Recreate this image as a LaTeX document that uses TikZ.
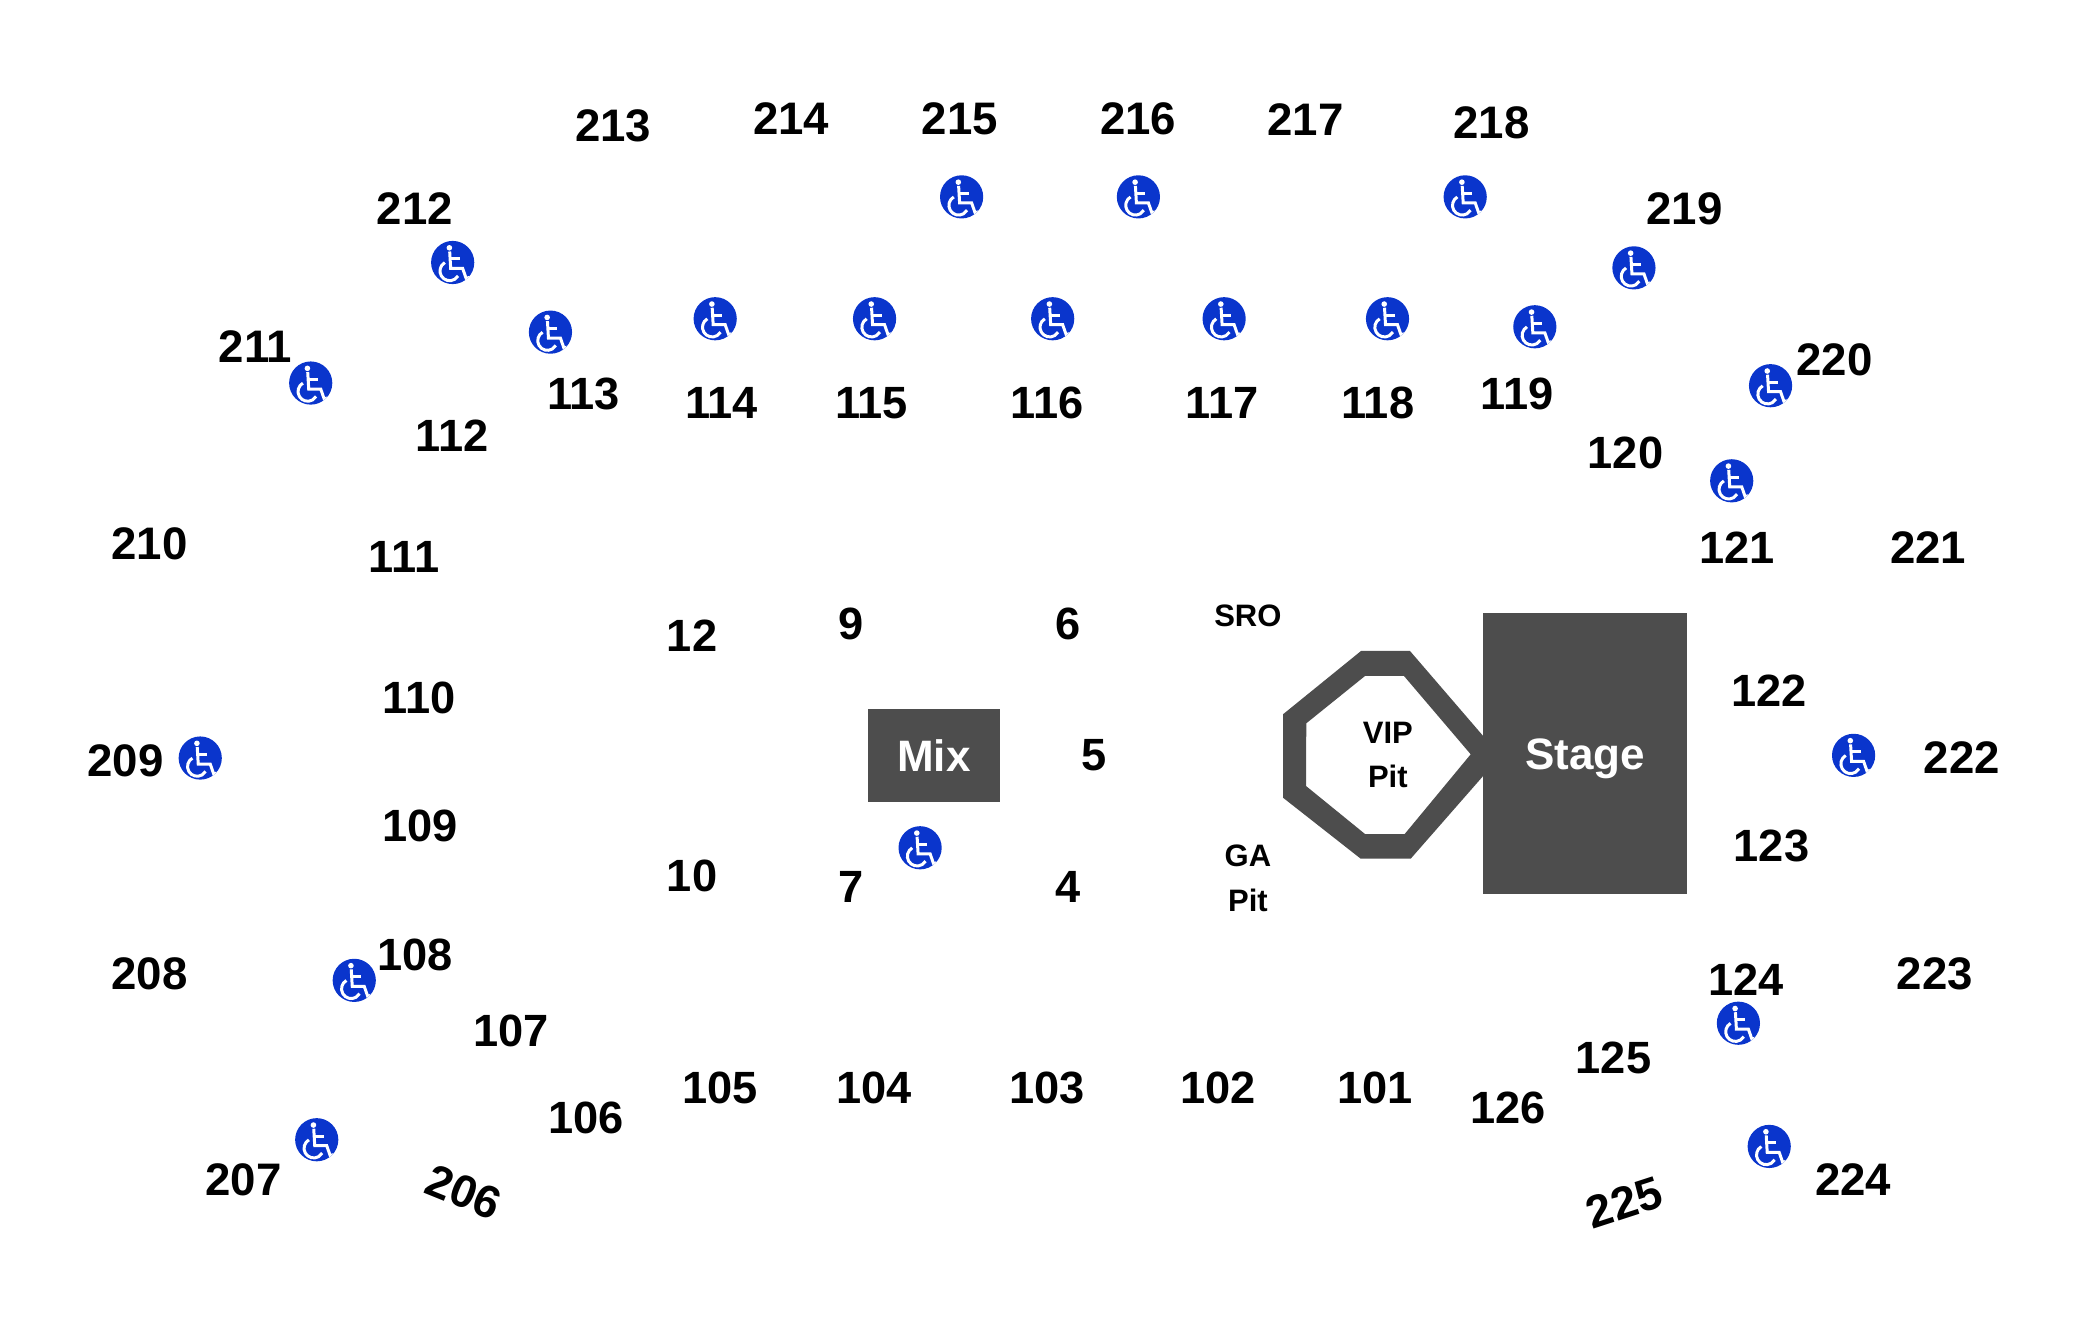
\documentclass[tikz,border=0pt]{standalone}
\usepackage{fontspec}
\setmainfont{Liberation Sans}[BoldFont={Liberation Sans Bold}]
\definecolor{grayshape}{HTML}{4D4D4D}
\definecolor{wcblue}{HTML}{0A35CC}
\tikzset{
  lowerlabel/.style={font=\fontsize{22.6}{26}\selectfont\bfseries,text=black,inner sep=0pt},
  upperlabel/.style={font=\fontsize{22.8}{26}\selectfont\bfseries,text=black,inner sep=0pt},
  smalllabel/.style={font=\fontsize{15.5}{18}\selectfont\bfseries,text=black,inner sep=0pt},
  whitelabel/.style={font=\fontsize{22}{24}\selectfont\bfseries,text=white,inner sep=0pt,text height=15.8pt,text depth=0pt},
  wc/.style={circle,fill=wcblue,minimum size=21.6pt,inner sep=0pt,path picture={
    \begin{scope}[shift={(path picture bounding box.center)},scale=0.74667,white,line width=1.5pt]
      \fill (-3.3,-14.7) circle (2.8);
      \draw (-3,-11) -- (-2,6) -- (10,6) -- (13.5,16) -- (16.5,15);
      \draw (-2.5,-3.5) -- (7,-3.5);
      \draw (-7.85,0.1) arc[start angle=240,end angle=30,radius=9.7];
    \end{scope}}}
}
\begin{document}
\begin{tikzpicture}[x=0.5pt,y=-0.5pt]
\path[use as bounding box] (0,0) rectangle (2100,1320);
\fill[grayshape,even odd rule]
  (1283,714.3) -- (1361,651) -- (1410,651) -- (1484,737) -- (1484,775) -- (1410.7,858.7) -- (1360.7,858.7) -- (1283,797.7) -- cycle
  (1306.3,723.3) -- (1365,676) -- (1404,676) -- (1470.7,754.3) -- (1404.7,834) -- (1365,834) -- (1306,786) -- cycle;
\node[whitelabel,fill=grayshape,minimum width=102pt,minimum height=140.5pt] (stage) at (1585,753.5) {Stage};
\node[whitelabel,fill=grayshape,minimum width=66pt,minimum height=46.4pt] (mix) at (934,755.5) {Mix};
\begin{scope}[scale=1.33929]
\node[wc] (w1) at (338,196) {};
\node[wc] (w2) at (232,286) {};
\node[wc] (w3) at (411,248) {};
\node[wc] (w4) at (534,238) {};
\node[wc] (w5) at (653,238) {};
\node[wc] (w6) at (786,238) {};
\node[wc] (w7) at (718,147) {};
\node[wc] (w8) at (850,147) {};
\node[wc] (w9) at (914,238) {};
\node[wc] (w10) at (1036,238) {};
\node[wc] (w11) at (1094,147) {};
\node[wc] (w12) at (1146,244) {};
\node[wc] (w13) at (1220,200) {};
\node[wc] (w14) at (1322,288) {};
\node[wc] (w15) at (1293,359) {};
\node[wc] (w16) at (149.5,566) {};
\node[wc] (w17) at (1384,564) {};
\node[wc] (w18) at (687,633) {};
\node[wc] (w19) at (264.5,732) {};
\node[wc] (w20) at (236.5,851) {};
\node[wc] (w21) at (1298,764) {};
\node[wc] (w22) at (1321,856) {};
\end{scope}
\begin{scope}[scale=1.33929,xshift=0.37]
\node[upperlabel] (s213) at (457,94) {213};
\node[upperlabel] (s214) at (590,88.5) {214};
\node[upperlabel] (s215) at (716,89) {215};
\node[upperlabel] (s216) at (849,89) {216};
\node[upperlabel] (s217) at (974,89) {217};
\node[upperlabel] (s218) at (1113,92) {218};
\node[upperlabel] (s212) at (309,156) {212};
\node[upperlabel] (s219) at (1257,156) {219};
\node[upperlabel] (s211) at (190,259) {211};
\node[upperlabel] (s220) at (1369,269) {220};
\node[upperlabel] (s210) at (111,406) {210};
\node[upperlabel] (s221) at (1439,409) {221};
\node[upperlabel] (s209) at (93,568) {209};
\node[upperlabel] (s222) at (1464,566) {222};
\node[upperlabel] (s208) at (111,727) {208};
\node[upperlabel] (s223) at (1444,727) {223};
\node[upperlabel] (s207) at (181,881) {207};
\node[upperlabel] (s224) at (1383,881) {224};
\node[upperlabel,rotate=-22] (s206) at (345.5,890) {206};
\node[upperlabel,rotate=18] (s225) at (1212,898) {225};
\node[lowerlabel] (s113) at (435,294) {113};
\node[lowerlabel] (s114) at (538,301) {114};
\node[lowerlabel] (s115) at (650,301) {115};
\node[lowerlabel] (s116) at (781,301) {116};
\node[lowerlabel] (s117) at (912,301) {117};
\node[lowerlabel] (s118) at (1028,301) {118};
\node[lowerlabel] (s119) at (1132,294) {119};
\node[lowerlabel] (s112) at (337,325) {112};
\node[lowerlabel] (s120) at (1213,338) {120};
\node[lowerlabel] (s111) at (301,416) {111};
\node[lowerlabel] (s121) at (1296,409) {121};
\node[lowerlabel] (s110) at (312,521) {110};
\node[lowerlabel] (s122) at (1320,516) {122};
\node[lowerlabel] (s109) at (313,617) {109};
\node[lowerlabel] (s123) at (1322,631.5) {123};
\node[lowerlabel] (s108) at (309,713) {108};
\node[lowerlabel] (s124) at (1303,731.5) {124};
\node[lowerlabel] (s107) at (381,770) {107};
\node[lowerlabel] (s125) at (1204,790) {125};
\node[lowerlabel] (s105) at (537,812.5) {105};
\node[lowerlabel] (s104) at (652,812.5) {104};
\node[lowerlabel] (s103) at (781,812.5) {103};
\node[lowerlabel] (s102) at (909,812.5) {102};
\node[lowerlabel] (s101) at (1026,812.5) {101};
\node[lowerlabel] (s126) at (1125,827) {126};
\node[lowerlabel] (s106) at (437,835) {106};
\node[lowerlabel] (s12) at (516,474.5) {12};
\node[lowerlabel] (s9) at (635,466) {9};
\node[lowerlabel] (s6) at (797,466) {6};
\node[lowerlabel] (s5) at (816,564) {5};
\node[lowerlabel] (s10) at (516,654) {10};
\node[lowerlabel] (s7) at (635,662) {7};
\node[lowerlabel] (s4) at (797,662) {4};
\node[smalllabel] (sro) at (931,460) {SRO};
\node[smalllabel] (ga) at (931,639) {GA};
\node[smalllabel] (gapit) at (931,672) {Pit};
\node[smalllabel] (vip) at (1035.5,547) {VIP};
\node[smalllabel] (vippit) at (1035.5,580) {Pit};
\end{scope}
\end{tikzpicture}
\end{document}
